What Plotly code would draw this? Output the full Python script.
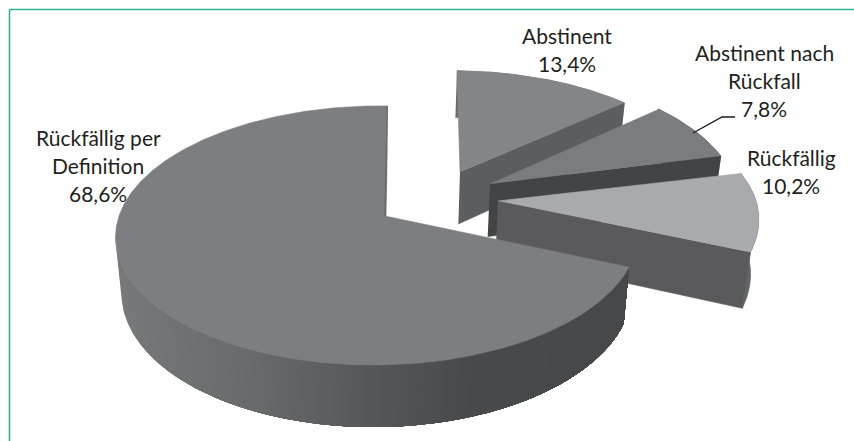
import numpy as np
import plotly.graph_objects as go

# --- data ---
categories = ["Abstinent", "Abstinent nach Rückfall", "Rückfällig", "Rückfällig per Definition"]
values = [13.4, 7.8, 10.2, 68.6]
label_lines = [["Abstinent"], ["Abstinent nach", "Rückfall"], ["Rückfällig"], ["Rückfällig per", "Definition"]]

# --- look of the tilted, exploded pie (pixels) ---
W, H = 854, 441
R, K, P, Q = 258.0, 126.6, 0.15, -0.03
shear = [3.5, 0.0, 0.0, -2.5]
apex = [(460, 172), (490, 184), (498, 201), (385, 216)]
scale_x = [0.97, 0.98, 1.03, 1.0]
scale_y = [0.92, 1.0, 1.0, 1.0]
top_colors = ["#848589", "#7b7c7f", "#a9aaad", "#7d7e81"]
radial_colors = ["#5c5d5f", "#434446", "#5a5a5c", "#6b6c6f"]
outer_colors = ["#6a6b6d", "#505153", "#636466", None]
big_stops_x = [116, 250, 385, 470, 630]
big_stops_v = [0x78, 0x69, 0x54, 0x49, 0x47]
label_x = [567, 764, 791, 98]
label_y = [35, 52, 157, 137]
LINE = 28
FONT = "Lato"
FS = 21


def disc(theta, i):
    """Screen point of a rim angle (radians clockwise from the top) of slice i."""
    X, Y = np.sin(theta), -np.cos(theta)
    s = 1 / (1 - P * Y - Q * X)
    return (apex[i][0] + (R * scale_x[i] * X + shear[i] * Y) * s,
            apex[i][1] + K * Y * s * scale_y[i])


def lower(x, y):
    """Matching point on the underside of the pie."""
    return 385 + (x - 385) * 0.978, y + 52 + (y - 172) * 0.052


def poly(xs, ys, color, lw=0.6):
    return go.Scatter(x=list(xs), y=list(ys), mode="lines", fill="toself", fillcolor=color,
                      line=dict(color=color, width=lw), hoverinfo="skip", showlegend=False)


fig = go.Figure()
cum = np.cumsum([0] + values) / sum(values) * 2 * np.pi

for i in range(len(values)):
    th = np.linspace(cum[i], cum[i + 1], 400)
    rx, ry = disc(th, i)
    ax, ay = apex[i]
    bax, bay = lower(ax, ay)
    bx, by = lower(rx, ry)
    # rim wall
    if i < 3:
        fig.add_trace(poly(np.r_[rx, bx[::-1]], np.r_[ry, by[::-1]], outer_colors[i]))
    else:
        # only the front of the rim shows: bands of equal shade, lightest first,
        # each darker band painted over the part of the previous one towards the right
        end = int(np.argmin(rx)) + 1
        fx, fy, gx, gy = rx[:end], ry[:end], bx[:end], by[:end]
        shade = np.interp(fx, big_stops_x, big_stops_v).astype(int)
        for v in sorted(set(shade.tolist()), reverse=True):
            n = int(np.where(shade <= v)[0][-1]) + 1
            c = f"rgb({v},{v + 1},{v + 3})"
            fig.add_trace(poly(np.r_[fx[:n], gx[:n][::-1]], np.r_[fy[:n], gy[:n][::-1]], c, 0))
    # radial wall at the clockwise end of the slice
    fig.add_trace(poly([ax, rx[-1], bx[-1], bax], [ay, ry[-1], by[-1], bay], radial_colors[i]))
    # top face
    fig.add_trace(poly(np.r_[ax, rx], np.r_[ay, ry], top_colors[i]))

# thin visible edge along the straight cut of the large slice
_x, _y = disc(np.array([2 * np.pi]), 3)
fig.add_trace(go.Scatter(x=[apex[3][0], _x[0]], y=[apex[3][1], _y[0]], mode="lines",
                         line=dict(color=radial_colors[3], width=1.5),
                         hoverinfo="skip", showlegend=False))

# leader line of the second label
fig.add_trace(go.Scatter(x=[693, 722, 735], y=[133, 117, 117], mode="lines",
                         line=dict(color="#1a1a1a", width=1.4), hoverinfo="skip", showlegend=False))

for i in range(len(values)):
    pct = f"{values[i]:.1f}".replace(".", ",") + "%"
    for n, t in enumerate(label_lines[i] + [pct]):
        fig.add_annotation(x=label_x[i], y=label_y[i] + n * LINE, text=t, showarrow=False,
                           xanchor="center", yanchor="middle",
                           font=dict(family=FONT, size=FS, color="#231f20"))

# green frame
fig.add_shape(type="line", x0=9.5, x1=854, y0=9.5, y1=9.5, line=dict(color="#2fb090", width=1.6))
fig.add_shape(type="line", x0=9.5, x1=9.5, y0=9.5, y1=441, line=dict(color="#2fb090", width=1.6))

fig.update_layout(width=W, height=H, margin=dict(l=0, r=0, t=0, b=0),
                  paper_bgcolor="white", plot_bgcolor="white",
                  xaxis=dict(range=[0, W], visible=False, fixedrange=True),
                  yaxis=dict(range=[H, 0], visible=False, fixedrange=True))
fig.write_html("out.html", config={"displayModeBar": False},
               post_script="document.body.style.margin='0';document.documentElement.style.overflow='hidden';")
